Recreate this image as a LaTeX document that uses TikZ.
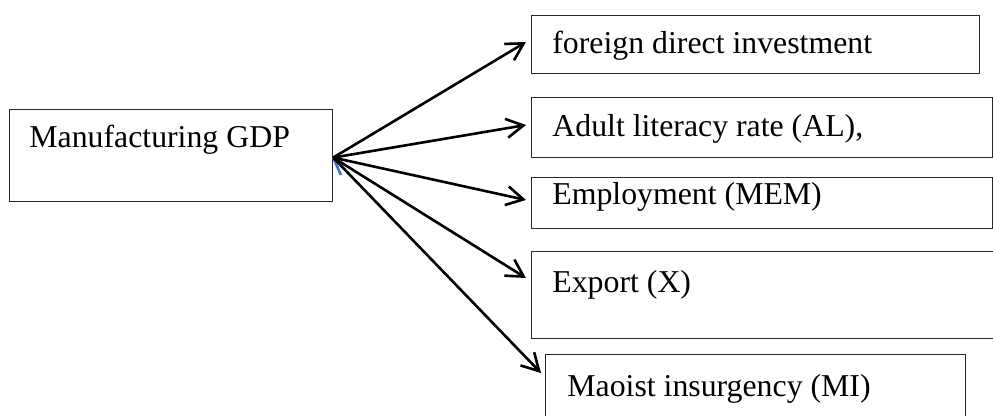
\documentclass[tikz,border=0pt]{standalone}
\usepackage{fontspec}
\setmainfont{Liberation Serif}
\usetikzlibrary{arrows.meta}
\definecolor{wordblue}{RGB}{68,114,196}
\definecolor{boxline}{RGB}{40,40,40}
\begin{document}
\begin{tikzpicture}[x=0.5pt,y=-0.5pt,
  box/.style={draw=boxline, line width=0.6pt, rectangle, inner sep=0pt, anchor=north west},
  lbl/.style={anchor=base west, inner sep=0pt, font=\fontsize{15.9}{19}\selectfont},
  arr/.style={line width=1.3pt, -{Straight Barb[length=8.5pt,width=9.5pt,line width=1.3pt]}}]
\clip (0,0) rectangle (993,416);
\fill[white] (0,0) rectangle (993,416);
% boxes
\node[box, minimum width=161.5pt, minimum height=46pt] (m) at (9,109) {};
\node[box, minimum width=224pt, minimum height=29pt] (b1) at (531,15) {};
\node[box, minimum width=230.5pt, minimum height=30pt] (b2) at (531,97) {};
\node[box, minimum width=230.5pt, minimum height=25.5pt] (b3) at (531,177) {};
\node[box, minimum width=235pt, minimum height=43.5pt] (b4) at (531,251) {};
\node[box, minimum width=210pt, minimum height=40pt] (b5) at (545,354) {};
% labels
\node[lbl] (tm) at (29,148) {Manufacturing GDP};
\node[lbl] (t1) at (552,54) {foreign direct investment};
\node[lbl] (t2) at (552,137) {Adult literacy rate (AL),};
\node[lbl] (t3) at (552,205) {Employment (MEM)};
\node[lbl] (t4) at (552,293) {Export (X)};
\node[lbl] (t5) at (567,397) {Maoist insurgency (MI)};
% connector ends
\coordinate (o) at ([yshift=-1pt]m.east);
\coordinate (p1) at (526,42);
\coordinate (p2) at (526,125);
\coordinate (p3) at (526,200);
\coordinate (p4) at (526,278);
\coordinate (p5) at (541,373);
\coordinate (bl) at (341,175);
\draw[wordblue, line width=1.3pt] (o) -- (bl);
\draw[arr] (o) -- (p1);
\draw[arr] (o) -- (p2);
\draw[arr] (o) -- (p3);
\draw[arr] (o) -- (p4);
\draw[arr] (o) -- (p5);
\end{tikzpicture}
\end{document}
